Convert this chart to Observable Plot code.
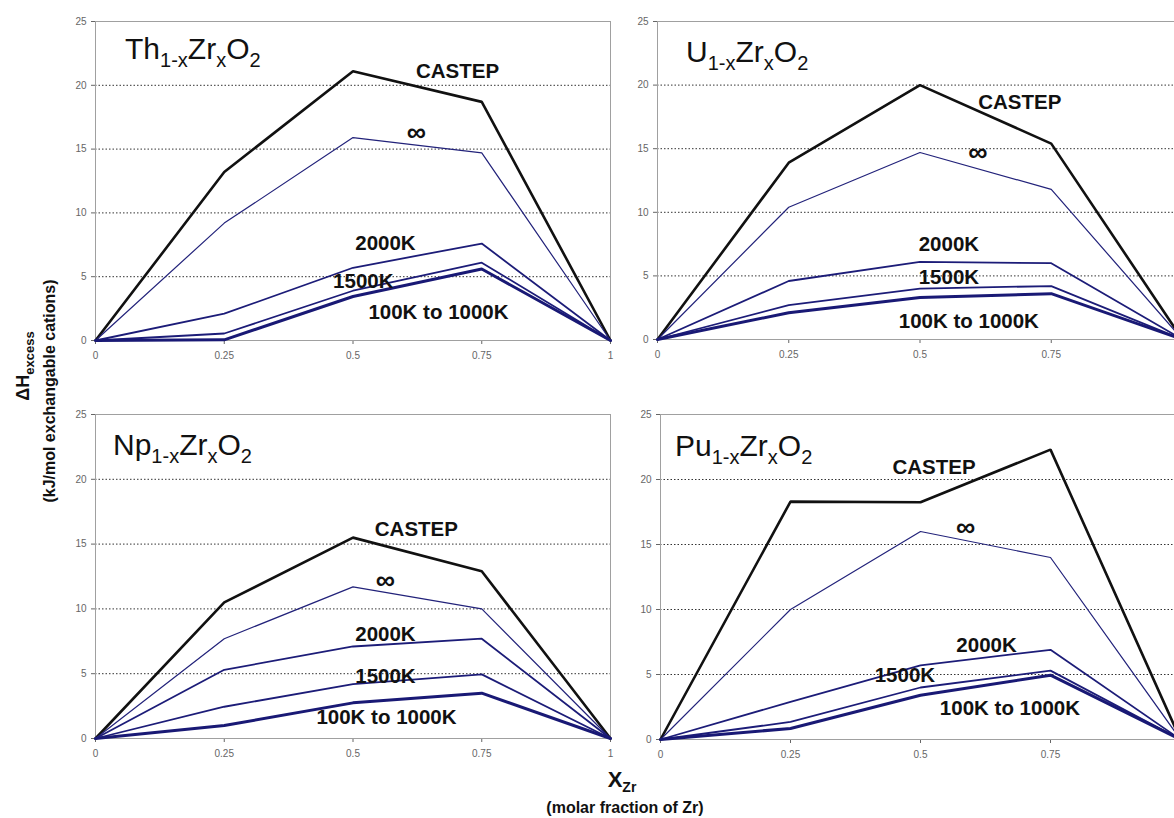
<!DOCTYPE html>
<html><head><meta charset="utf-8">
<script src="https://cdn.jsdelivr.net/npm/d3@7"></script>
<script src="https://cdn.jsdelivr.net/npm/@observablehq/plot@0.6"></script>
<style>
html,body{margin:0;padding:0;background:#fff;overflow:hidden;}
#root{position:relative;width:1174px;height:818px;overflow:hidden;font-family:"Liberation Sans",Arial,sans-serif;background:#fff;}
.panel{position:absolute;}
.panel svg{max-width:none !important;}
#overlay{position:absolute;left:0;top:0;pointer-events:none;}
</style>
</head><body>
<div id="root"></div>
<script>
// ---- data ----
const xFrac = [0, 0.25, 0.5, 0.75, 1];
const seriesNames = ["CASTEP", "∞", "2000K", "1500K", "100K to 1000K"];
const xTicksLeft = [0, 0.25, 0.5, 0.75, 1];
const xTicksRight = [0, 0.25, 0.5, 0.75];
const yTicks = [0, 5, 10, 15, 20, 25];
const gridValues = [5, 10, 15, 20];

// values per series (order as seriesNames), at xFrac
const thValues = [
  [0, 13.2, 21.1, 18.7, 0],
  [0, 9.2, 15.9, 14.7, 0],
  [0, 2.1, 5.7, 7.6, 0],
  [0, 0.55, 3.9, 6.1, 0],
  [0, 0.05, 3.45, 5.6, 0]
];
const uValues = [
  [0, 13.9, 20.0, 15.4, 0],
  [0, 10.4, 14.7, 11.8, 0],
  [0, 4.6, 6.1, 6.0, 0],
  [0, 2.7, 4.0, 4.2, 0],
  [0, 2.1, 3.3, 3.6, 0]
];
const npValues = [
  [0, 10.5, 15.5, 12.9, 0],
  [0, 7.7, 11.7, 10.0, 0],
  [0, 5.3, 7.1, 7.7, 0],
  [0, 2.45, 4.2, 4.95, 0],
  [0, 1.0, 2.75, 3.5, 0]
];
const puValues = [
  [0, 18.3, 18.25, 22.3, 0],
  [0, 10.0, 16.0, 14.0, 0],
  [0, 2.9, 5.7, 6.9, 0],
  [0, 1.35, 4.0, 5.3, 0],
  [0, 0.85, 3.4, 4.95, 0]
];

// label anchor positions (data units) per series
const thLabelPos = [[0.703, 21.1], [0.623, 16.3], [0.563, 7.6], [0.52, 4.6], [0.666, 2.2]];
const uLabelPos = [[0.69, 18.6], [0.61, 14.7], [0.555, 7.45], [0.555, 4.85], [0.593, 1.4]];
const npLabelPos = [[0.623, 16.1], [0.563, 12.2], [0.563, 8.05], [0.563, 4.8], [0.565, 1.6]];
const puLabelPos = [[0.526, 20.9], [0.587, 16.3], [0.627, 7.25], [0.47, 4.9], [0.672, 2.4]];

// ---- styles ----
const lineColors = ["#111111", "#22227a", "#1c1c78", "#1c1c78", "#191975"];
const lineWidths = [2.6, 1.2, 1.8, 1.8, 3];
const labelSizes = [20.5, 27, 20.5, 20.5, 20.5];

const root = document.getElementById("root");

function makePanel(values, labelPos, xTicks, box) {
  const marks = [
    Plot.ruleY(gridValues, {stroke: "#333", strokeDasharray: "1.5,2", strokeWidth: 1}),
    Plot.frame({stroke: "#a0a0a0"})
  ];
  values.forEach((vals, i) => {
    const data = xFrac.map((x, j) => ({x, y: vals[j]}));
    marks.push(Plot.line(data, {x: "x", y: "y", stroke: lineColors[i], strokeWidth: lineWidths[i], strokeLinejoin: "miter"}));
  });
  const labels = seriesNames.map((s, i) => ({x: labelPos[i][0], y: labelPos[i][1], text: s, size: labelSizes[i]}));
  marks.push(Plot.text(labels, {x: "x", y: "y", text: "text", fontSize: "size", fontWeight: "bold", fill: "#111", textAnchor: "middle"}));
  const svg = Plot.plot({
    width: box.w, height: box.h,
    marginLeft: box.ml, marginRight: box.mr, marginTop: box.mt, marginBottom: box.mb,
    style: {background: "transparent", overflow: "visible", fontFamily: "'Liberation Sans', Arial, sans-serif", fontSize: "10px", color: "#666"},
    x: {domain: [0, 1], ticks: xTicks, tickSize: 4, tickPadding: 7, label: null, tickFormat: d => String(d)},
    y: {domain: [0, 25], ticks: yTicks, tickSize: 4, tickPadding: 5, label: null},
    marks
  });
  const div = document.createElement("div");
  div.className = "panel";
  div.style.left = box.left + "px";
  div.style.top = box.top + "px";
  div.style.width = box.w + "px";
  div.style.height = box.h + "px";
  div.appendChild(svg);
  root.appendChild(div);
}

makePanel(thValues, thLabelPos, xTicksLeft, {left: 0, top: 0, w: 620, h: 370, ml: 95, mr: 10, mt: 21, mb: 30});
makePanel(npValues, npLabelPos, xTicksLeft, {left: 0, top: 390, w: 620, h: 380, ml: 95, mr: 10, mt: 24, mb: 32});
makePanel(uValues, uLabelPos, xTicksRight, {left: 600, top: 0, w: 600, h: 370, ml: 57, mr: 18, mt: 21, mb: 31});
makePanel(puValues, puLabelPos, xTicksRight, {left: 600, top: 390, w: 600, h: 380, ml: 60, mr: 20, mt: 24, mb: 31});

// ---- overlay text: titles and axis labels ----
const ov = d3.select(root).append("svg").attr("id", "overlay")
  .attr("width", 1174).attr("height", 818)
  .style("font-family", "'Liberation Sans', Arial, sans-serif");

const titles = [
  {x: 125, y: 59, parts: [["Th", 0], ["1-x", 1], ["Zr", 0], ["x", 1], ["O", 0], ["2", 1]]},
  {x: 686, y: 62, parts: [["U", 0], ["1-x", 1], ["Zr", 0], ["x", 1], ["O", 0], ["2", 1]]},
  {x: 113, y: 455, parts: [["Np", 0], ["1-x", 1], ["Zr", 0], ["x", 1], ["O", 0], ["2", 1]]},
  {x: 675, y: 456, parts: [["Pu", 0], ["1-x", 1], ["Zr", 0], ["x", 1], ["O", 0], ["2", 1]]}
];
titles.forEach(t => {
  const txt = ov.append("text").attr("x", t.x).attr("y", t.y).attr("font-size", 30).attr("fill", "#111");
  let sub = 0;
  t.parts.forEach(([s, isSub]) => {
    const dy = isSub === sub ? 0 : (isSub ? 8 : -8);
    sub = isSub;
    txt.append("tspan").attr("dy", dy).attr("font-size", isSub ? 20 : 30).text(s);
  });
});

// y-axis label
const yl = ov.append("text").attr("transform", "translate(29,366) rotate(-90)")
  .attr("text-anchor", "middle").attr("font-weight", "bold").attr("fill", "#111");
yl.append("tspan").attr("font-size", 18).text("ΔH");
yl.append("tspan").attr("font-size", 13).attr("dy", 5).text("excess");
ov.append("text").attr("transform", "translate(55,391) rotate(-90)")
  .attr("text-anchor", "middle").attr("font-weight", "bold").attr("font-size", 16).attr("fill", "#111")
  .text("(kJ/mol exchangable cations)");

// x-axis label
const xl = ov.append("text").attr("x", 622).attr("y", 787)
  .attr("text-anchor", "middle").attr("font-weight", "bold").attr("fill", "#111");
xl.append("tspan").attr("font-size", 22).text("X");
xl.append("tspan").attr("font-size", 14).attr("dy", 5).text("Zr");
ov.append("text").attr("x", 625).attr("y", 813)
  .attr("text-anchor", "middle").attr("font-weight", "bold").attr("font-size", 16).attr("fill", "#111")
  .text("(molar fraction of Zr)");
</script>
</body></html>
